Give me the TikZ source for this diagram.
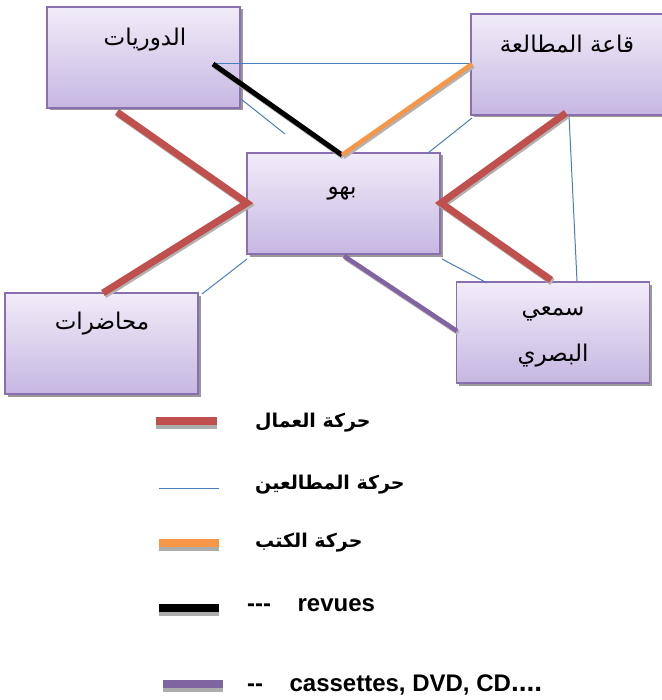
\documentclass[tikz,border=0pt]{standalone}
\usepackage{fontspec}
\setmainfont{Liberation Sans}
\newfontfamily\arabicfont[Script=Arabic]{DejaVu Sans}
\TeXXeTstate=1
\usetikzlibrary{shadows}
\definecolor{wred}{HTML}{C0504D}
\definecolor{wblue}{HTML}{4A7EBB}
\definecolor{worange}{HTML}{F79646}
\definecolor{wpurple}{HTML}{8064A2}
\definecolor{boxborder}{HTML}{8A6FB0}
\definecolor{boxtop}{HTML}{F1ECF8}
\definecolor{boxbot}{HTML}{C6B7E2}
\begin{document}
\begin{tikzpicture}[x=1pt,y=-1pt,
  box/.style={draw=boxborder, line width=1.3pt, top color=boxtop, bottom color=boxbot,
    minimum width=193pt, minimum height=101pt, inner sep=0pt,
    drop shadow={shadow xshift=2.5pt, shadow yshift=-2.5pt, fill=black!40, opacity=1}},
  lbl/.style={font=\arabicfont\fontsize{23}{26}\selectfont, inner sep=0pt},
  leglbl/.style={font=\arabicfont\bfseries\fontsize{19}{22}\selectfont, inner sep=0pt, anchor=west},
  latlbl/.style={font=\bfseries\fontsize{24}{28}\selectfont, inner sep=0pt, anchor=west},
  shdline/.style={draw=black!30, line join=miter},
  redline/.style={draw=wred, line width=7pt, line join=miter},
  blueline/.style={draw=wblue, line width=1pt},
  orangeline/.style={draw=worange, line width=4.5pt},
  blackline/.style={draw=black, line width=5pt},
  purpleline/.style={draw=wpurple, line width=4.5pt},
  legbar/.style={line width=8pt},
  legshd/.style={draw=black!32, line width=8pt},
]
\useasboundingbox (0,0) rectangle (661,700);

% boxes
\node[box] (dw) at (143.5,57.5) {};
\node[box] (qa) at (567.5,64.5) {};
\node[box] (bh) at (343.5,203.5) {};
\node[box] (mh) at (101.5,343.5) {};
\node[box] (sm) at (553,332.5) {};

% box texts
\node[lbl] (tdw) at (145,40) {\beginR الدوريات\endR};
\node[lbl] (tqa) at (567,44) {\beginR قاعة المطالعة\endR};
\node[lbl] (tbh) at (342,193) {\beginR بهو\endR};
\node[lbl] (tmh) at (102,324) {\beginR محاضرات\endR};
\node[lbl] (tsm1) at (553,314) {\beginR سمعي\endR};
\node[lbl] (tsm2) at (553,356) {\beginR البصري\endR};

% connector points
\coordinate (p1) at (213,64);
\coordinate (p2) at (342,155);
\coordinate (p3) at (472,64);
\coordinate (b1a) at (241,99);
\coordinate (b1b) at (285,134);
\coordinate (b2a) at (472,118);
\coordinate (b2b) at (428,153);
\coordinate (b3a) at (569,115);
\coordinate (b3b) at (577,281);
\coordinate (b4a) at (247,259);
\coordinate (b4b) at (202,294);
\coordinate (b5a) at (442,259);
\coordinate (b5b) at (487,283);
\coordinate (r1a) at (117,112);
\coordinate (r1b) at (247,203);
\coordinate (r1c) at (103,293);
\coordinate (r2a) at (566,113);
\coordinate (r2b) at (441,203);
\coordinate (r2c) at (551,280);
\coordinate (pu1) at (344,256);
\coordinate (pu2) at (457,331);

% connectors
\draw[blueline] (p1) -- (p3);
\draw[blueline] (b1a) -- (b1b);
\draw[blueline] (b2a) -- (b2b);
\draw[blueline] (b3a) -- (b3b);
\draw[blueline] (b4a) -- (b4b);
\draw[blueline] (b5a) -- (b5b);
\tikzset{s/.style={xshift=1.4pt,yshift=-2pt}}
\draw[shdline, line width=7pt] ([s]r1a) -- ([s]r1b) -- ([s]r1c);
\draw[shdline, line width=7pt] ([s]r2a) -- ([s]r2b) -- ([s]r2c);
\draw[shdline, line width=5pt] ([s]p1) -- ([s]p2);
\draw[shdline, line width=4.5pt] ([s]p2) -- ([s]p3);
\draw[shdline, line width=4.5pt] ([s]pu1) -- ([s]pu2);
\draw[redline] (r1a) -- (r1b) -- (r1c);
\draw[redline] (r2a) -- (r2b) -- (r2c);
\draw[blackline] (p1) -- (p2);
\draw[orangeline] (p2) -- (p3);
\draw[purpleline] (pu1) -- (pu2);

% legend
\coordinate (l1a) at (156,421); \coordinate (l1b) at (217,421);
\coordinate (l2a) at (159,488); \coordinate (l2b) at (219,488);
\coordinate (l3a) at (159,543); \coordinate (l3b) at (219,543);
\coordinate (l4a) at (159,608); \coordinate (l4b) at (219,608);
\coordinate (l5a) at (163,684); \coordinate (l5b) at (223,684);
\tikzset{d/.style={yshift=-4pt}}
\draw[legshd] ([d]l1a) -- ([d]l1b);
\draw[legshd] ([d]l3a) -- ([d]l3b);
\draw[legshd] ([d]l4a) -- ([d]l4b);
\draw[legshd] ([d]l5a) -- ([d]l5b);
\draw[legbar, draw=wred] (l1a) -- (l1b);
\draw[blueline] (l2a) -- (l2b);
\draw[legbar, draw=worange] (l3a) -- (l3b);
\draw[legbar, draw=black] (l4a) -- (l4b);
\draw[legbar, draw=wpurple] (l5a) -- (l5b);
\node[leglbl] (g1) at (255,423) {\beginR حركة العمال\endR};
\node[leglbl] (g2) at (255,485) {\beginR حركة المطالعين\endR};
\node[leglbl] (g3) at (255,543) {\beginR حركة الكتب\endR};
\node[latlbl] (g4) at (247,605) {-{}-{}-\hspace{1.1em}revues};
\node[latlbl] (g5) at (247,685) {-{}-\hspace{1.1em}cassettes, DVD, CD{\fontsize{28}{28}\selectfont....}};
\end{tikzpicture}
\end{document}
